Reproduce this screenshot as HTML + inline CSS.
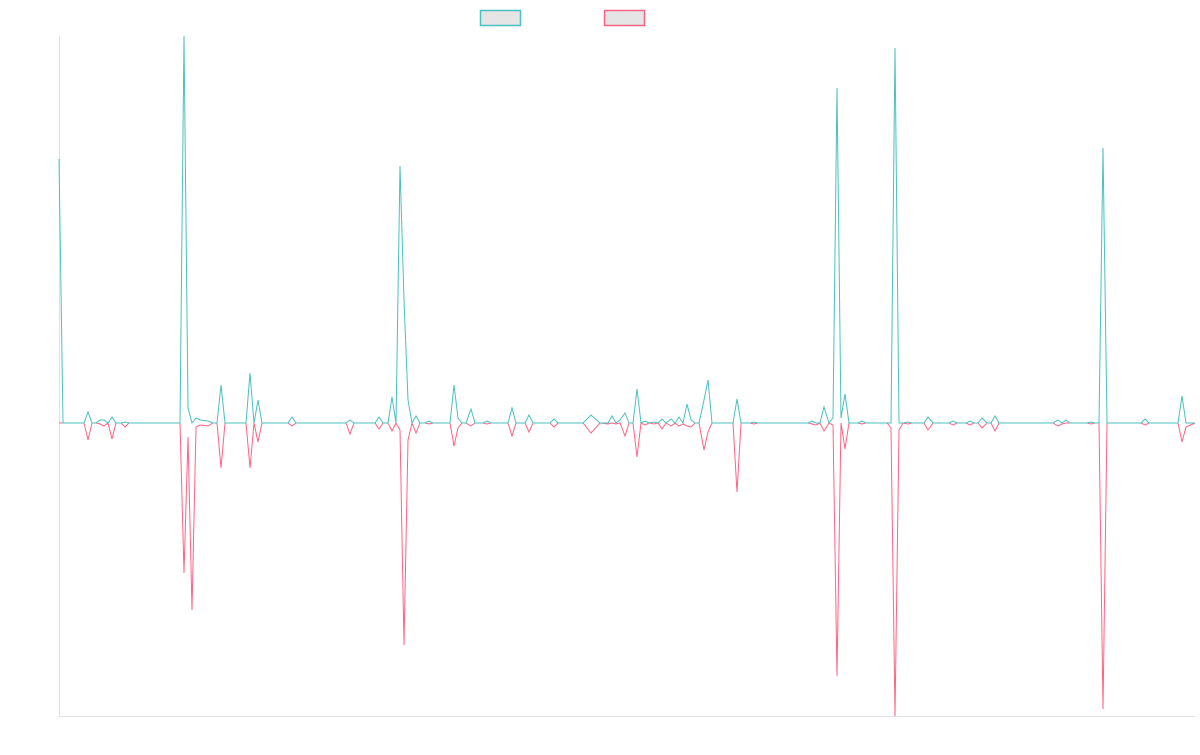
<!DOCTYPE html>
<html><head><style>body{margin:0;background:#fff}</style></head><body>
<svg width="1200" height="750" xmlns="http://www.w3.org/2000/svg">
<line x1="59.5" y1="36" x2="59.5" y2="716" stroke="#e0e0e0"/>
<line x1="59" y1="716.5" x2="1195" y2="716.5" stroke="#e0e0e0"/>
<rect x="480.5" y="10.5" width="40" height="15" fill="#e5e5e5" stroke="#4bc0c0" stroke-width="1.5"/>
<rect x="604.5" y="10.5" width="40" height="15" fill="#e5e5e5" stroke="#ff6384" stroke-width="1.5"/>
<polyline fill="none" stroke="#ff6384" stroke-width="1" points="59,423 84,423 88,440 92,423 96,423 100,424 104,426 108,423 112,439 116,423 121,423 125,427 129,423 180,423 184,573 188,437 192,610 196,427 200,425 208,426 213,423 217,423 221,468 225,423 246,423 250,468 254,423 258,442 262,423 288,423 292,426 296,423 346,423 350,434 354,423 375,423 379,429 383,423 388,423 392,431 396,423 400,430 404,645 408,440 412,423 416,433 420,423 425,423 429,424 433,423 450,423 454,446 458,428 462,423 466,423 471,426 475,423 483,423 487,424 491,423 508,423 512,436 516,423 525,423 529,432 533,423 550,423 554,427 558,423 583,423 591,433 600,423 608,424 612,423 616,424 620,423 625,436 629,423 633,423 637,457 641,423 645,425 649,423 654,424 658,423 662,429 666,423 671,426 675,423 679,426 683,424 687,426 691,427 695,423 699,423 704,450 708,432 712,423 733,423 737,492 741,423 750,423 754,424 758,423 808,423 812,424 816,425 820,423 824,431 829,423 833,425 837,676 841,423 845,449 849,423 858,423 862,424 866,423 887,423 891,428 895,716 899,430 903,423 908,424 912,423 924,423 928,430 933,423 949,423 953,425 957,423 966,423 970,425 974,423 978,423 982,428 987,423 991,423 995,431 999,423 1053,423 1058,426 1062,424 1066,423 1087,423 1091,424 1095,423 1099,423 1103,709 1107,423 1141,423 1145,425 1149,423 1178,423 1182,442 1186,427 1195,423"/>
<polyline fill="none" stroke="#4bc0c0" stroke-width="1" points="59,159 63,423 84,423 88,412 92,423 96,423 100,420 104,420 108,423 112,417 116,423 121,423 125,422 129,423 180,423 184,36 188,408 192,423 196,418 200,420 208,421 213,423 217,423 221,385 225,423 246,423 250,373 254,423 258,400 262,423 288,423 292,417 296,423 346,423 350,420 354,423 375,423 379,417 383,423 388,423 392,397 396,423 400,166 404,300 408,400 412,423 416,416 420,423 425,423 429,421 433,423 450,423 454,385 458,418 462,423 466,423 471,409 475,423 483,423 487,421 491,423 508,423 512,408 516,423 525,423 529,415 533,423 550,423 554,419 558,423 583,423 591,415 600,423 608,423 612,416 616,423 620,420 625,413 629,423 633,423 637,389 641,423 645,421 649,423 654,422 658,423 662,419 666,423 671,419 675,423 679,417 683,423 687,404 691,420 695,423 699,423 704,400 708,380 712,423 733,423 737,399 741,423 750,423 754,422 758,423 808,423 812,421 816,423 820,423 824,407 829,423 833,418 837,88 841,418 845,394 849,423 858,423 862,421 866,423 887,423 891,423 895,48 899,423 903,423 908,422 912,423 924,423 928,417 933,423 949,423 953,421 957,423 966,423 970,421 974,423 978,423 982,418 987,423 991,423 995,416 999,423 1053,423 1058,420 1062,423 1066,420 1070,423 1087,423 1091,422 1095,423 1099,423 1103,148 1107,423 1141,423 1145,419 1149,423 1178,423 1182,396 1186,423 1195,423"/>
</svg>
</body></html>
